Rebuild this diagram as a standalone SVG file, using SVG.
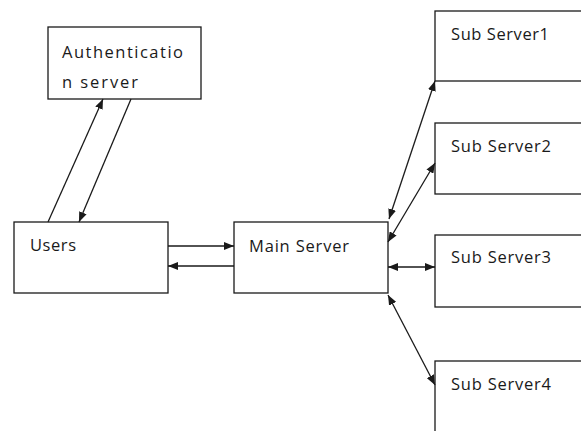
<svg xmlns="http://www.w3.org/2000/svg" width="581" height="431" viewBox="0 0 581 431">
  <style>
    .box { fill: #ffffff; stroke: #1a1a1a; stroke-width: 1.3; }
    .lbl { font-family: "Open Sans", "Noto Sans", sans-serif; font-size: 16.5px; fill: #1a1a1a; }
    .conn { stroke: #1a1a1a; stroke-width: 1.3; fill: none; }
    .one { marker-end: url(#arr); }
    .two { marker-start: url(#arr); marker-end: url(#arr); }
  </style>
  <defs>
    <marker id="arr" viewBox="0 0 10 8" refX="10" refY="4" markerWidth="10" markerHeight="8" markerUnits="userSpaceOnUse" orient="auto-start-reverse">
      <path d="M0,0 L10,4 L0,8 z" fill="#1a1a1a"/>
    </marker>
  </defs>
  <rect width="581" height="431" fill="#ffffff"/>

  <g id="auth">
    <rect class="box" x="48" y="27" width="153" height="72"/>
    <text class="lbl" x="62" y="58" textLength="121">Authenticatio</text>
    <text class="lbl" x="62" y="88" textLength="76">n server</text>
  </g>
  <g id="users">
    <rect class="box" x="14" y="222" width="154" height="71"/>
    <text class="lbl" x="30" y="251" textLength="46">Users</text>
  </g>
  <g id="main">
    <rect class="box" x="234" y="222" width="154" height="71"/>
    <text class="lbl" x="249" y="252" textLength="100">Main Server</text>
  </g>
  <g id="sub1">
    <rect class="box" x="435" y="11" width="200" height="70"/>
    <text class="lbl" x="451" y="40" textLength="98">Sub Server1</text>
  </g>
  <g id="sub2">
    <rect class="box" x="435" y="123" width="200" height="71"/>
    <text class="lbl" x="451" y="152" textLength="100">Sub Server2</text>
  </g>
  <g id="sub3">
    <rect class="box" x="435" y="235" width="200" height="72"/>
    <text class="lbl" x="451" y="263" textLength="100">Sub Server3</text>
  </g>
  <g id="sub4">
    <rect class="box" x="435" y="361" width="200" height="100"/>
    <text class="lbl" x="451" y="390" textLength="100">Sub Server4</text>
  </g>

  <g id="connectors">
    <line class="conn one" x1="48" y1="222" x2="103" y2="99"/>
    <line class="conn one" x1="131" y1="99" x2="79" y2="222"/>
    <line class="conn one" x1="168" y1="246" x2="234" y2="246"/>
    <line class="conn one" x1="234" y1="266" x2="168" y2="266"/>
    <line class="conn two" x1="389" y1="219" x2="435" y2="81"/>
    <line class="conn two" x1="388" y1="242" x2="435" y2="163"/>
    <line class="conn two" x1="388" y1="267" x2="435" y2="267"/>
    <line class="conn two" x1="388" y1="295" x2="435" y2="385"/>
  </g>
</svg>
